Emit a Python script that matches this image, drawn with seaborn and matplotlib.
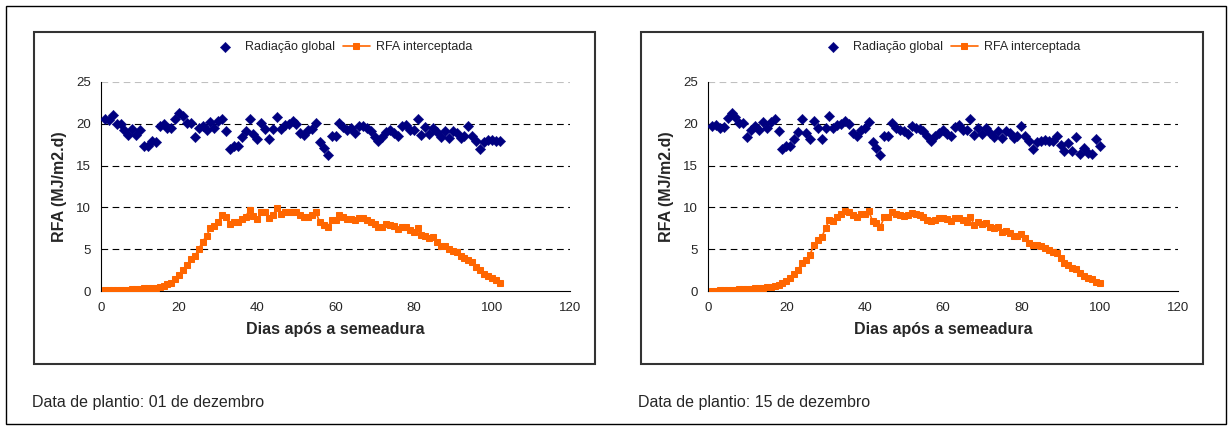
import matplotlib
matplotlib.use('Agg')
import matplotlib.pyplot as plt
import seaborn as sns
import pandas as pd
from matplotlib.patches import Rectangle

# dados: plantio 01 de dezembro
dias_01 = list(range(1, 103))
rad_01 = [20.6, 20.4, 21.0, 20.0, 20.0, 19.2, 18.7, 19.4, 18.7, 19.2,
          17.3, 17.3, 17.9, 17.8, 19.7, 20.0, 19.5, 19.5, 20.6, 21.3,
          20.9, 20.1, 20.1, 18.4, 19.5, 19.7, 19.2, 20.2, 19.5, 20.3,
          20.6, 19.1, 17.0, 17.3, 17.4, 18.4, 19.1, 20.6, 18.8, 18.2,
          20.1, 19.4, 18.2, 19.4, 20.8, 19.4, 19.8, 20.0, 20.3, 20.0,
          18.9, 18.7, 19.3, 19.4, 20.1, 17.8, 17.1, 16.3, 18.5, 18.5,
          20.1, 19.6, 19.3, 19.5, 18.9, 19.7, 19.7, 19.5, 19.1, 18.4,
          17.9, 18.4, 19.0, 19.3, 18.9, 18.5, 19.7, 19.9, 19.2, 19.2,
          20.6, 18.7, 19.6, 18.8, 19.5, 19.0, 18.4, 19.1, 18.3, 19.1,
          18.9, 18.3, 18.5, 19.7, 18.5, 17.9, 17.0, 17.8, 18.1, 18.1,
          17.9, 17.9]
rfa_01 = [0.1, 0.1, 0.1, 0.1, 0.1, 0.15, 0.15, 0.2, 0.2, 0.2,
          0.3, 0.35, 0.4, 0.4, 0.5, 0.6, 0.8, 1.0, 1.4, 1.9,
          2.5, 3.1, 3.8, 4.2, 5.0, 5.9, 6.6, 7.5, 7.8, 8.3,
          9.1, 8.8, 8.0, 8.3, 8.3, 8.6, 8.9, 9.7, 9.0, 8.6,
          9.5, 9.4, 8.7, 9.1, 9.9, 9.2, 9.4, 9.4, 9.5, 9.4,
          9.1, 8.8, 8.8, 9.1, 9.4, 8.2, 7.9, 7.6, 8.5, 8.5,
          9.1, 8.8, 8.6, 8.6, 8.5, 8.7, 8.7, 8.5, 8.3, 8.0,
          7.7, 7.7, 8.0, 7.9, 7.8, 7.4, 7.6, 7.6, 7.3, 7.1,
          7.5, 6.7, 6.6, 6.3, 6.4, 5.9, 5.4, 5.4, 5.0, 4.8,
          4.7, 4.2, 3.9, 3.7, 3.5, 2.9, 2.5, 2.0, 1.8, 1.6,
          1.3, 0.9]

# dados: plantio 15 de dezembro
dias_15 = list(range(1, 101))
rad_15 = [19.7, 19.9, 19.5, 19.6, 20.7, 21.3, 20.8, 20.1, 20.1, 18.4,
          19.3, 19.7, 19.2, 20.2, 19.5, 20.2, 20.6, 19.1, 17.0, 17.4,
          17.4, 18.2, 19.0, 20.6, 18.9, 18.2, 20.3, 19.5, 18.2, 19.5,
          20.9, 19.5, 19.9, 20.0, 20.3, 20.0, 18.9, 18.6, 19.3, 19.5,
          20.2, 17.8, 17.1, 16.3, 18.5, 18.6, 20.1, 19.5, 19.3, 19.1,
          18.8, 19.7, 19.5, 19.4, 19.1, 18.5, 17.9, 18.5, 18.9, 19.2,
          18.8, 18.5, 19.6, 19.9, 19.2, 19.2, 20.6, 18.7, 19.5, 18.8,
          19.5, 18.9, 18.4, 19.1, 18.3, 19.1, 18.9, 18.3, 18.5, 19.7,
          18.5, 17.9, 17.0, 17.8, 18.0, 18.1, 17.9, 17.9, 18.6, 17.5,
          16.7, 17.7, 16.7, 18.4, 16.4, 17.1, 16.5, 16.4, 18.2, 17.4]
rfa_15 = [0.05, 0.05, 0.1, 0.1, 0.1, 0.15, 0.15, 0.2, 0.2, 0.2,
          0.25, 0.3, 0.35, 0.4, 0.45, 0.5, 0.6, 0.75, 0.9, 1.2,
          1.5, 2.0, 2.5, 3.4, 3.7, 4.3, 5.5, 6.1, 6.4, 7.5,
          8.5, 8.4, 8.9, 9.2, 9.6, 9.5, 9.1, 8.9, 9.2, 9.2,
          9.6, 8.4, 8.1, 7.7, 8.8, 8.8, 9.4, 9.2, 9.1, 9.0,
          9.1, 9.3, 9.2, 9.1, 8.9, 8.5, 8.4, 8.5, 8.7, 8.7,
          8.6, 8.4, 8.7, 8.7, 8.5, 8.3, 8.8, 7.9, 8.3, 8.0,
          8.1, 7.6, 7.5, 7.6, 7.1, 7.2, 6.9, 6.6, 6.6, 6.8,
          6.3, 5.8, 5.5, 5.5, 5.4, 5.1, 4.9, 4.7, 4.5, 3.9,
          3.4, 3.1, 2.7, 2.6, 2.1, 1.8, 1.6, 1.4, 1.1, 0.9]

legendas = ['Radiação global', 'RFA interceptada']
titulos = ['Data de plantio: 01 de dezembro', 'Data de plantio: 15 de dezembro']
x_ticks = [0, 20, 40, 60, 80, 100, 120]
y_ticks = [0, 5, 10, 15, 20, 25]

sns.set_style('white')
plt.rcParams['font.family'] = ['Liberation Sans', 'DejaVu Sans']

W, H = 1231, 428
fig = plt.figure(figsize=(W / 100, H / 100), dpi=100)

# moldura externa
fig.patches.append(Rectangle((6 / W, 1 - 424 / H), 1220 / W, 418 / H, transform=fig.transFigure,
                             fill=False, edgecolor='black', linewidth=1.0))

paineis = [
    dict(dias=dias_01, rad=rad_01, rfa=rfa_01, box=(34, 32, 595, 364), ax=(101, 570), leg=342, cap=32),
    dict(dias=dias_15, rad=rad_15, rfa=rfa_15, box=(641, 32, 1203, 364), ax=(708, 1178), leg=950, cap=638),
]

for p, titulo in zip(paineis, titulos):
    bx0, by0, bx1, by1 = p['box']
    fig.patches.append(Rectangle((bx0 / W, 1 - by1 / H), (bx1 - bx0) / W, (by1 - by0) / H,
                                 transform=fig.transFigure, fill=False, edgecolor='#333333', linewidth=1.5))
    ax0, ax1 = p['ax']
    ax = fig.add_axes([ax0 / W, 1 - 291 / H, (ax1 - ax0) / W, (291 - 82) / H])

    for yv in [5, 10, 15, 20]:
        ax.axhline(yv, color='black', linestyle=(0, (6, 4)), linewidth=0.8, zorder=0)
    ax.axhline(25, color='#c0c0c0', linestyle=(0, (6, 4)), linewidth=0.8, zorder=0)

    df = pd.DataFrame({'dia': p['dias'], 'rad': p['rad'], 'rfa': p['rfa']})
    sns.scatterplot(data=df, x='dia', y='rad', ax=ax, marker='D', s=28, color='#000080',
                    edgecolor='#000080', linewidth=0.3, label=legendas[0], zorder=3)
    sns.lineplot(data=df, x='dia', y='rfa', ax=ax, marker='s', markersize=5, color='#FF6600',
                 markeredgecolor='#FF6600', linewidth=1.2, label=legendas[1], zorder=3)

    ax.set_xlim(0, 120)
    ax.set_ylim(0, 25)
    ax.set_xticks(x_ticks)
    ax.set_yticks(y_ticks)
    ax.tick_params(axis='both', labelsize=9.5, length=4, width=0.8, direction='out', color='black')
    ax.tick_params(axis='x', pad=4)
    ax.tick_params(axis='y', pad=3)
    for s in ['top', 'right']:
        ax.spines[s].set_visible(False)
    for s in ['left', 'bottom']:
        ax.spines[s].set_color('black')
        ax.spines[s].set_linewidth(0.8)
    ax.set_xlabel('Dias após a semeadura', fontsize=11.5, fontweight='bold', labelpad=6)
    ax.set_ylabel('RFA (MJ/m2.d)', fontsize=11.5, fontweight='bold', labelpad=7)

    leg = ax.legend(loc='center', bbox_to_anchor=(p['leg'] / W, 1 - 47 / H), bbox_transform=fig.transFigure,
                    ncol=2, frameon=False, fontsize=9, handlelength=2.2, columnspacing=0.6, handletextpad=0.5)

    fig.text(p['cap'] / W, 1 - 402 / H, titulo, fontsize=11.5, va='center', ha='left')

fig.savefig('out.png', dpi=100)
